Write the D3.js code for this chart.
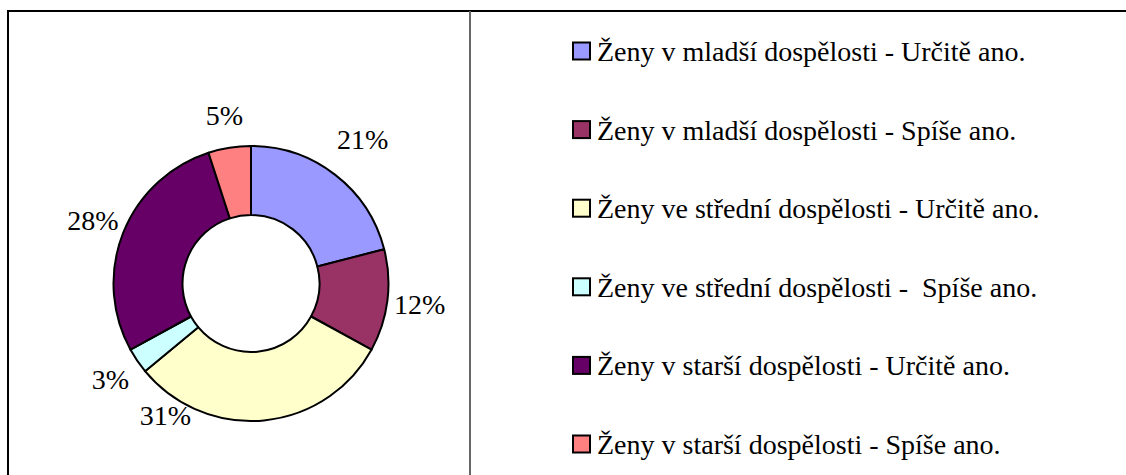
<!DOCTYPE html>
<html>
<head>
<meta charset="utf-8">
<script src="https://cdn.jsdelivr.net/npm/d3@7"></script>
<style>
  html, body { margin: 0; padding: 0; background: #fff; }
  svg { display: block; }
  svg text { font-family: "Liberation Serif", "Times New Roman", "DejaVu Serif", serif; }
</style>
</head>
<body>
<svg id="chart" width="1126" height="475"></svg>
<script>
// ---- Data ----
const categories = [
  "Ženy v mladší dospělosti - Určitě ano.",
  "Ženy v mladší dospělosti - Spíše ano.",
  "Ženy ve střední dospělosti - Určitě ano.",
  "Ženy ve střední dospělosti -  Spíše ano.",
  "Ženy v starší dospělosti - Určitě ano.",
  "Ženy v starší dospělosti - Spíše ano."
];
const values = [21, 12, 31, 3, 28, 5];
const colors = ["#9999FF", "#993366", "#FFFFCC", "#CCFFFF", "#660066", "#FF8080"];

// ---- Layout (not data) ----
const W = 1126, H = 475;
const cx = 251, cy = 283.5, outerR = 137.5, innerR = 68.5;
const labelR = 170;
// manual label placements as in the original (degrees from 12 o'clock, radius)
const labelOverride = { 0: { r: 182 }, 2: { angle: 213, r: 157 } };

const svg = d3.select("#chart");

// frame
svg.append("line").attr("x1", 8).attr("x2", W).attr("y1", 11).attr("y2", 11)
  .attr("stroke", "#000").attr("stroke-width", 2);
svg.append("line").attr("x1", 8).attr("x2", 8).attr("y1", 10).attr("y2", H)
  .attr("stroke", "#000").attr("stroke-width", 2);
svg.append("line").attr("x1", 470).attr("x2", 470).attr("y1", 11).attr("y2", H)
  .attr("stroke", "#666").attr("stroke-width", 2);

const pie = d3.pie().value(d => d).sort(null);
const arcs = pie(values);
const arc = d3.arc().innerRadius(innerR).outerRadius(outerR);

const g = svg.append("g").attr("transform", `translate(${cx},${cy})`);
g.selectAll("path.slice").data(arcs).enter().append("path")
  .attr("class", "slice")
  .attr("d", arc)
  .attr("fill", (d, i) => colors[i])
  .attr("stroke", "#000").attr("stroke-width", 2).attr("stroke-linejoin", "round");

const total = d3.sum(values);
g.selectAll("text.lbl").data(arcs).enter().append("text")
  .attr("class", "lbl")
  .each(function(d, i) {
    const o = labelOverride[i] || {};
    const a = o.angle !== undefined ? o.angle * Math.PI / 180 : (d.startAngle + d.endAngle) / 2;
    const r = o.r || labelR;
    d3.select(this)
      .attr("x", Math.sin(a) * r)
      .attr("y", -Math.cos(a) * r)
      .text(Math.round(d.data / total * 100) + "%");
  })
  .attr("text-anchor", "middle")
  .attr("dominant-baseline", "central")
  .attr("font-size", 28)
  .attr("fill", "#000");

// legend
const legY0 = 51, legStep = 78.6;
const leg = svg.append("g");
const rows = leg.selectAll("g.row").data(categories).enter().append("g")
  .attr("class", "row")
  .attr("transform", (d, i) => `translate(573,${legY0 + i * legStep})`);
rows.append("rect")
  .attr("x", 0).attr("y", -8.5).attr("width", 17).attr("height", 17)
  .attr("fill", (d, i) => colors[i])
  .attr("stroke", "#000").attr("stroke-width", 2);
rows.append("text")
  .attr("x", 24).attr("y", 10)
  .attr("font-size", 28)
  .attr("fill", "#000")
  .style("white-space", "pre")
  .text(d => d);
</script>
</body>
</html>
